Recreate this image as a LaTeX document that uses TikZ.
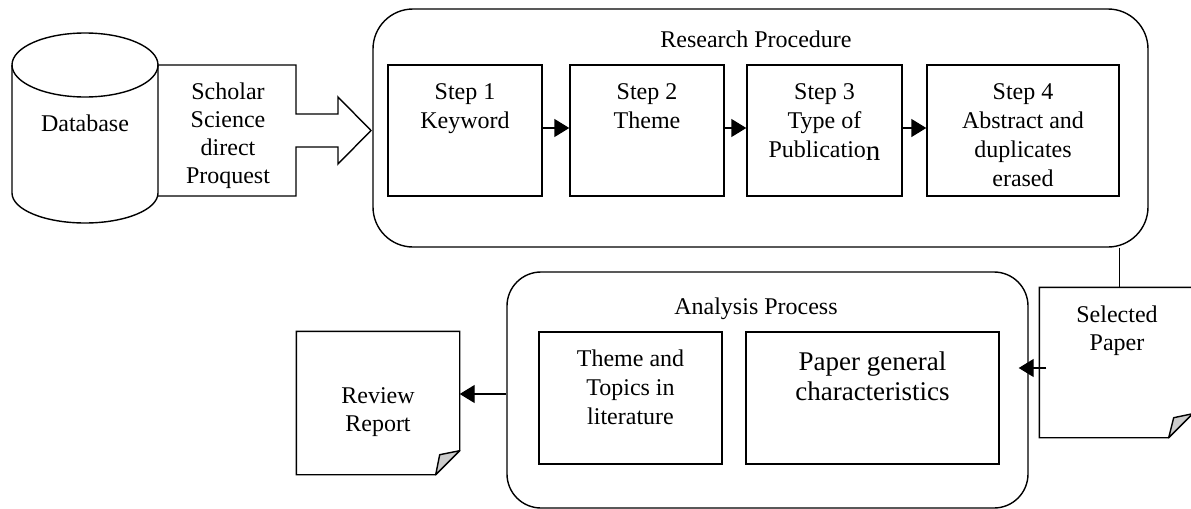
\documentclass[tikz,border=0pt]{standalone}
\usepackage{fontspec}
\setmainfont{Liberation Serif}
\usetikzlibrary{arrows.meta}
\begin{document}
\begin{tikzpicture}[x=0.5pt,y=-0.5pt,
  line width=0.7pt,
  box/.style={draw, fill=white, inner sep=0pt},
  txt/.style={inner sep=0pt, align=center, anchor=north, font=\fontsize{12}{14.5}\selectfont},
  arr/.style={-{Triangle[length=7.5pt,width=9pt]}},
  flap/.style={fill=gray!40, line join=round}]
\useasboundingbox (0,0) rectangle (1191,509);
\clip (0,0) rectangle (1191,509);

% block arrow with sources
\draw[fill=white, line join=miter] (158,65) -- (296,65) -- (296,114) -- (338,114) -- (338,97) -- (371,130.5) -- (338,164) -- (338,147) -- (296,147) -- (296,196) -- (158,196);
\node[txt, font=\fontsize{12}{14}\selectfont] (src) at (228,82) {Scholar\\Science\\direct\\Proquest};

% database cylinder
\fill[white] (12,65) -- (12,193) arc[start angle=180, end angle=0, x radius=73, y radius=30] -- (158,65) -- cycle;
\draw (12,65) -- (12,193) arc[start angle=180, end angle=0, x radius=73, y radius=30] -- (158,65);
\draw (85,65) ellipse[x radius=73, y radius=32];
\node[txt] (db) at (85,114) {Database};

% research procedure
\node[box, rounded corners=20pt, minimum width=387.5pt, minimum height=119pt] (rp) at (760.5,128) {};
\node[txt] (rpt) at (756,30) {Research Procedure};

\node[box, minimum width=77pt, minimum height=65.5pt] (s1) at (465,130.5) {};
\node[txt] (s1t) at (465,83) {Step 1\\Keyword};
\node[box, minimum width=77pt, minimum height=65.5pt] (s2) at (647,130.5) {};
\node[txt] (s2t) at (647,83) {Step 2\\Theme};
\node[box, minimum width=77.5pt, minimum height=65.5pt] (s3) at (824.5,130.5) {};
\node[txt] (s3t) at (824.5,83) {Step 3\\Type of\\Publicatio\raisebox{-1.5pt}{\fontsize{14.5}{14}\selectfont n}};
\node[box, minimum width=96pt, minimum height=65.5pt] (s4) at (1023,130.5) {};
\node[txt] (s4t) at (1023,83) {Step 4\\Abstract and\\duplicates\\erased};

\draw[arr] ([yshift=1.25pt]s1.east) -- ([yshift=1.25pt]s2.west);
\draw[arr] ([yshift=1.25pt]s2.east) -- ([yshift=1.25pt]s3.west);
\draw[arr] ([yshift=1.25pt]s3.east) -- ([yshift=1.25pt]s4.west);

% selected paper
\node[minimum width=76pt, minimum height=74.5pt, inner sep=0pt] (sp) at (1116,362.5) {};
\draw[fill=white] (sp.north west) -- (sp.north east) -- ([yshift=12pt]sp.south east) -- ([xshift=-12pt]sp.south east) -- (sp.south west) -- cycle;
\draw[flap] ([xshift=-12pt]sp.south east) -- ([xshift=-9.5pt,yshift=10pt]sp.south east) -- ([yshift=12pt]sp.south east) -- cycle;
\node[txt, font=\fontsize{12}{14}\selectfont] (spt) at (1117,305) {Selected\\Paper};

\draw (rp.south -| s4.east) -- (sp.north -| s4.east);

% analysis process
\node[box, rounded corners=17pt, minimum width=260.5pt, minimum height=118pt] (ap) at (767.5,390) {};
\node[txt] (apt) at (756,297) {Analysis Process};
\node[box, minimum width=91.5pt, minimum height=66pt] (tp) at (630.5,398) {};
\node[txt] (tpt) at (630.5,349) {Theme and\\Topics in\\literature};
\node[box, minimum width=126.5pt, minimum height=66pt] (pg) at (872.5,398) {};
\node[txt, font=\fontsize{13.5}{15}\selectfont] (pgt) at (872.5,351) {Paper general\\characteristics};

\coordinate (a1) at ([xshift=3.5pt]sp.west);
\draw[arr, shorten >=-5pt] (a1 |- 0,368) -- (ap.east |- 0,368);

% review report
\node[minimum width=81pt, minimum height=71pt, inner sep=0pt] (rr) at (378,403) {};
\draw[fill=white] (rr.north west) -- (rr.north east) -- ([yshift=12pt]rr.south east) -- ([xshift=-12pt]rr.south east) -- (rr.south west) -- cycle;
\draw[flap] ([xshift=-12pt]rr.south east) -- ([xshift=-10pt,yshift=10pt]rr.south east) -- ([yshift=12pt]rr.south east) -- cycle;
\node[txt, font=\fontsize{12}{14}\selectfont] (rrt) at (378,387) {Review\\Report};

\draw[arr] (ap.west |- 0,394) -- (rr.east |- 0,394);
\end{tikzpicture}
\end{document}
